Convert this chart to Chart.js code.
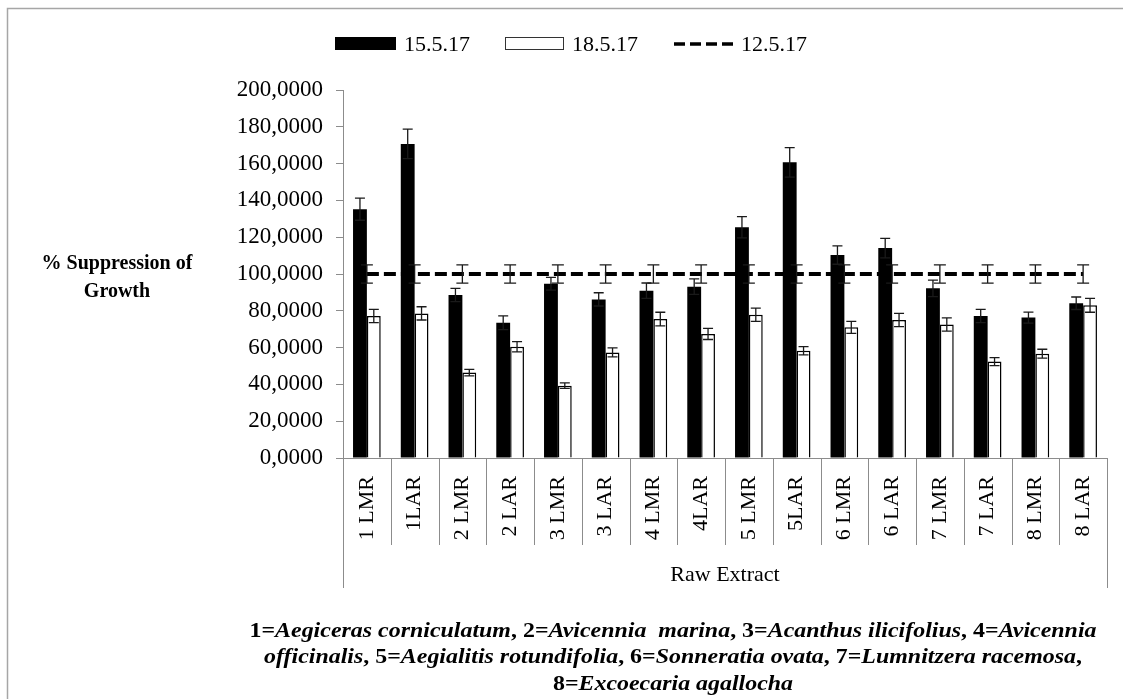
<!DOCTYPE html>
<html>
<head>
<meta charset="utf-8">
<script src="https://cdn.jsdelivr.net/npm/chart.js@4.4.0/dist/chart.umd.min.js"></script>
<style>
  html, body { margin: 0; padding: 0; background: #fff; }
  #wrap { position: relative; width: 1123px; height: 699px; }
</style>
</head>
<body>
<div id="wrap"><canvas id="chart"></canvas></div>
<script>
// categories
const labels = ['1 LMR', '1LAR', '2 LMR', '2 LAR', '3 LMR', '3 LAR', '4 LMR', '4LAR',
                '5 LMR', '5LAR', '6 LMR', '6 LAR', '7 LMR', '7 LAR', '8 LMR', '8 LAR'];

// 15.5.17 (black bars)
const vals1505 = [135.2, 170.7, 88.6, 73.5, 94.7, 86.2, 90.9, 93.1,
                  125.4, 160.7, 110.3, 114.1, 92.2, 77.2, 76.3, 84.1];
const errs1505 = [6, 8, 3.6, 3.7, 3.5, 3.6, 4.2, 4.2, 5.8, 8, 5, 5.3, 4.5, 3.6, 3, 3.4];

// 18.5.17 (white bars)
const vals1805 = [77.2, 78.6, 46.4, 60.5, 39.3, 57.4, 75.5, 67.4,
                  77.9, 58.3, 71, 75, 72.6, 52.4, 56.7, 83];
const errs1805 = [3.6, 3.6, 1.8, 2.8, 1.5, 2.4, 3.7, 3, 3.6, 2.2, 3.3, 3.6, 3.6, 2.2, 2.4, 3.8];

// 12.5.17 (dashed control line)
const vals1205 = [100, 100, 100, 100, 100, 100, 100, 100, 100, 100, 100, 100, 100, 100, 100, 100];
const errs1205 = [5, 5, 5, 5, 5, 5, 5, 5, 5, 5, 5, 5, 5, 5, 5, 5];

const yTicks = [0, 20, 40, 60, 80, 100, 120, 140, 160, 180, 200];

const SERIF = "'Liberation Serif', 'Times New Roman', serif";
const AXIS_GREY = '#8c8c8c';

// --- error bars ---
const errorBars = {
  id: 'errorBars',
  afterDatasetsDraw(chart) {
    const ctx = chart.ctx;
    const yScale = chart.scales.y;
    chart.data.datasets.forEach((ds, di) => {
      if (!ds.errs) return;
      const meta = chart.getDatasetMeta(di);
      ctx.save();
      ctx.strokeStyle = '#1a1a1a';
      ctx.lineWidth = 1.3;
      meta.data.forEach((el, i) => {
        const v = ds.data[i], e = ds.errs[i];
        const x = el.x;
        const yTop = yScale.getPixelForValue(v + e);
        const yBot = yScale.getPixelForValue(v - e);
        const cap = ds.capWidth / 2;
        ctx.beginPath();
        ctx.moveTo(x, yTop); ctx.lineTo(x, yBot);
        ctx.moveTo(x - cap, yTop); ctx.lineTo(x + cap, yTop);
        ctx.moveTo(x - cap, yBot); ctx.lineTo(x + cap, yBot);
        ctx.stroke();
      });
      ctx.restore();
    });
  }
};

// --- frame, legend, titles, category dividers, footnote ---
const decorations = {
  id: 'decorations',
  afterDraw(chart) {
    const ctx = chart.ctx;
    const area = chart.chartArea;
    ctx.save();

    // outer frame (top + left only)
    ctx.strokeStyle = '#a6a6a6';
    ctx.lineWidth = 1.5;
    ctx.beginPath();
    ctx.moveTo(7.5, 699); ctx.lineTo(7.5, 8.5); ctx.lineTo(1123, 8.5);
    ctx.stroke();

    // category dividers under the x axis
    ctx.strokeStyle = AXIS_GREY;
    ctx.lineWidth = 1;
    const n = labels.length;
    const step = (area.right - area.left) / n;
    for (let i = 0; i <= n; i++) {
      const px = Math.round(area.left + i * step) + 0.5;
      ctx.beginPath();
      ctx.moveTo(px, area.bottom);
      ctx.lineTo(px, (i === 0 || i === n) ? 588 : 545);
      ctx.stroke();
    }

    ctx.fillStyle = '#000';
    ctx.textBaseline = 'alphabetic';

    // group label
    ctx.font = '22px ' + SERIF;
    ctx.textAlign = 'center';
    ctx.fillText('Raw Extract', (area.left + area.right) / 2, 581);

    // y title (horizontal, two lines)
    ctx.font = 'bold 20px ' + SERIF;
    ctx.fillText('% Suppression of', 117, 269);
    ctx.fillText('Growth', 117, 297);

    // legend
    ctx.textAlign = 'left';
    ctx.font = '22px ' + SERIF;
    ctx.fillStyle = '#000';
    ctx.fillRect(335, 37, 61, 13);
    ctx.fillText('15.5.17', 404, 51);
    ctx.strokeStyle = '#333';
    ctx.lineWidth = 1;
    ctx.strokeRect(505.5, 37.5, 58, 12);
    ctx.fillText('18.5.17', 572, 51);
    ctx.strokeStyle = '#000';
    ctx.lineWidth = 3.5;
    ctx.setLineDash([11, 5]);
    ctx.beginPath();
    ctx.moveTo(674, 44); ctx.lineTo(733, 44);
    ctx.stroke();
    ctx.setLineDash([]);
    ctx.fillText('12.5.17', 741, 51);

    // footnote (bold + bold italic species names)
    const lines = [
      [['1=', 'b'], ['Aegiceras corniculatum', 'bi'], [', 2=', 'b'], ['Avicennia  marina', 'bi'],
       [', 3=', 'b'], ['Acanthus ilicifolius', 'bi'], [', 4=', 'b'], ['Avicennia', 'bi']],
      [['officinalis', 'bi'], [', 5=', 'b'], ['Aegialitis rotundifolia', 'bi'], [', 6=', 'b'],
       ['Sonneratia ovata', 'bi'], [', 7=', 'b'], ['Lumnitzera racemosa', 'bi'], [',', 'b']],
      [['8=', 'b'], ['Excoecaria agallocha', 'bi']]
    ];
    const baselines = [637, 663, 690];
    const fontFor = s => (s === 'bi' ? 'italic bold 21px ' : 'bold 21px ') + SERIF;
    const widthOf = line => line.reduce((w, seg) => { ctx.font = fontFor(seg[1]); return w + ctx.measureText(seg[0]).width; }, 0);
    const sx = 847 / widthOf(lines[0]);
    const cx = 673;
    lines.forEach((line, li) => {
      const w = widthOf(line) * sx;
      ctx.save();
      ctx.translate(cx - w / 2, baselines[li]);
      ctx.scale(sx, 1);
      let px = 0;
      line.forEach(seg => {
        ctx.font = fontFor(seg[1]);
        ctx.fillText(seg[0], px, 0);
        px += ctx.measureText(seg[0]).width;
      });
      ctx.restore();
    });

    ctx.restore();
  }
};

const ctx = document.getElementById('chart').getContext('2d');
new Chart(ctx, {
  type: 'bar',
  data: {
    labels: labels,
    datasets: [
      {
        type: 'line',
        label: '12.5.17',
        data: vals1205,
        errs: errs1205,
        capWidth: 12,
        borderColor: '#000',
        borderWidth: 4,
        borderDash: [12, 5],
        pointRadius: 0,
        fill: false,
        order: 0
      },
      {
        label: '15.5.17',
        data: vals1505,
        errs: errs1505,
        capWidth: 10,
        backgroundColor: '#000',
        borderColor: '#000',
        borderWidth: 0,
        order: 1
      },
      {
        label: '18.5.17',
        data: vals1805,
        errs: errs1805,
        capWidth: 10,
        backgroundColor: '#fff',
        borderColor: '#000',
        borderWidth: 1.5,
        order: 1
      }
    ]
  },
  options: {
    responsive: true,
    maintainAspectRatio: false,
    animation: false,
    events: [],
    categoryPercentage: 0.58,
    barPercentage: 1.0,
    layout: { padding: { top: 90, left: 0, right: 16, bottom: 0 } },
    plugins: {
      legend: { display: false },
      tooltip: { enabled: false }
    },
    scales: {
      x: {
        grid: { display: false },
        border: { display: true, color: AXIS_GREY, width: 1 },
        ticks: {
          color: '#000',
          font: { family: SERIF, size: 22 },
          minRotation: 90,
          maxRotation: 90,
          padding: 10,
          autoSkip: false
        },
        afterFit(scale) {
          scale.height = 699 - 458;
          scale.paddingLeft = 0;
          scale.paddingRight = 0;
        }
      },
      y: {
        min: 0,
        max: 200,
        afterBuildTicks(scale) { scale.ticks = yTicks.map(v => ({ value: v })); },
        grid: { drawOnChartArea: false, drawTicks: true, tickLength: 7, color: AXIS_GREY },
        border: { display: true, color: AXIS_GREY, width: 1 },
        ticks: {
          color: '#000',
          font: { family: SERIF, size: 23 },
          padding: 13,
          callback: v => v.toFixed(4).replace('.', ',')
        },
        afterFit(scale) { scale.width = 343; }
      }
    }
  },
  plugins: [errorBars, decorations]
});
</script>
</body>
</html>
